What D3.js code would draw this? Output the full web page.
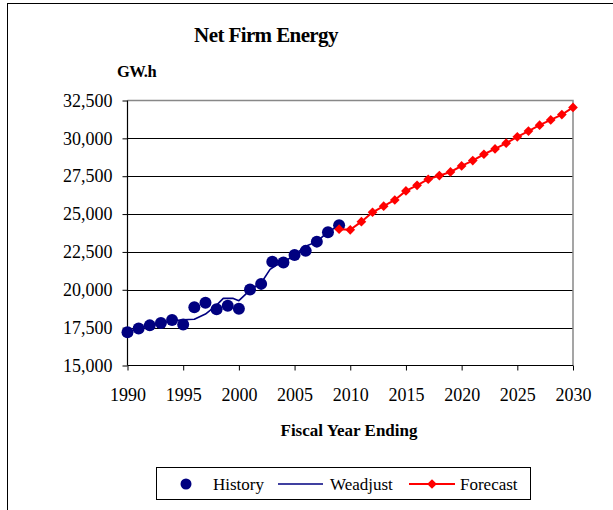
<!DOCTYPE html>
<html><head><meta charset="utf-8">
<script src="https://cdn.jsdelivr.net/npm/d3@7"></script>
<style>body{margin:0;background:#fff}svg{display:block}text{font-family:"Liberation Serif","Times New Roman",serif}</style>
</head><body>
<svg id="c" width="613" height="510" font-family="Liberation Serif"></svg>
<script>
const historyYears = [1990,1991,1992,1993,1994,1995,1996,1997,1998,1999,2000,2001,2002,2003,2004,2005,2006,2007,2008,2009];
const historyValues = [17190,17450,17650,17800,18000,17710,18850,19150,18720,18950,18750,20020,20390,21850,21800,22300,22570,23180,23800,24270];
const weadjustYears = [1990,1991,1992,1993,1994,1995,1996,1997,1998,1998.6,1999.5,2000,2001,2002,2002.8,2003.3,2004,2005,2006,2007,2008,2009];
const weadjustValues = [17200,17450,17650,17800,17950,18020,18050,18400,18990,19430,19430,19280,19980,20450,21350,21600,21800,22300,22880,23180,23820,24250];
const forecastYears = [2009,2010,2011,2012,2013,2014,2015,2016,2017,2018,2019,2020,2021,2022,2023,2024,2025,2026,2027,2028,2029,2030];
const forecastValues = [24000,23960,24500,25120,25520,25930,26530,26900,27300,27540,27780,28180,28530,28950,29300,29680,30100,30480,30870,31220,31570,32040];
const yTicks = [15000,17500,20000,22500,25000,27500,30000,32500];
const xTicks = [1990,1995,2000,2005,2010,2015,2020,2025,2030];
const titleText = "Net Firm Energy";
const yUnit = "GW.h";
const xTitle = "Fiscal Year Ending";
const legendLabels = ["History","Weadjust","Forecast"];

const svg = d3.select("#c");
const x = d3.scaleLinear().domain([1990,2030]).range([127.5,573]);
const y = d3.scaleLinear().domain([15000,32500]).range([365.5,100.5]);
const navy = "#000080", red = "#ff0000";
const serif = "Liberation Serif";

// outer chart border
svg.append("rect").attr("x",7.5).attr("y",3.5).attr("width",700).attr("height",600)
  .attr("fill","none").attr("stroke","#000").attr("stroke-width",1);

// gridlines
svg.append("g").selectAll("line").data(yTicks.filter(d=>d>15000 && d<32500)).join("line")
  .attr("x1",x(1990)).attr("x2",x(2030)).attr("y1",d=>Math.round(y(d))+0.5).attr("y2",d=>Math.round(y(d))+0.5)
  .attr("stroke","#000").attr("stroke-width",1);
// plot border top/right (gray)
svg.append("path").attr("d",`M${x(1990)},${y(32500)}H${x(2030)}V${y(15000)}`)
  .attr("fill","none").attr("stroke","#888").attr("stroke-width",1.5);

// axes
const yAxis = d3.axisLeft(y).tickValues(yTicks).tickSize(5).tickPadding(10).tickFormat(d3.format(","));
const gy = svg.append("g").attr("transform",`translate(${x(1990)},0)`).call(yAxis);
const xAxis = d3.axisBottom(x).tickValues(xTicks).tickSize(5).tickPadding(17.5).tickFormat(d3.format("d"));
const gx = svg.append("g").attr("transform",`translate(0,${y(15000)})`).call(xAxis);
[gy,gx].forEach(g=>{
  g.attr("font-family",serif);
  g.select(".domain").attr("stroke","#000").attr("stroke-width",1.2);
  g.selectAll(".tick line").attr("stroke","#000");
  g.selectAll("text").attr("font-size",18).attr("fill","#000").attr("font-family",serif);
});
gy.select(".domain").attr("d",`M0,${y(32500)}V${y(15000)}`);
gx.select(".domain").attr("d",`M${x(1990)},0H${x(2030)}`);

// Weadjust line
const line = d3.line().x(d=>x(d[0])).y(d=>y(d[1]));
svg.append("path").datum(weadjustYears.map((d,i)=>[d,weadjustValues[i]]))
  .attr("d",line).attr("fill","none").attr("stroke",navy).attr("stroke-width",1.6).attr("stroke-linejoin","round");

// History dots
svg.append("g").selectAll("circle").data(historyYears.map((d,i)=>[d,historyValues[i]])).join("circle")
  .attr("cx",d=>x(d[0])).attr("cy",d=>y(d[1])).attr("r",6).attr("fill",navy);

// Forecast
const fdata = forecastYears.map((d,i)=>[d,forecastValues[i]]);
svg.append("path").datum(fdata).attr("d",d3.line().x(d=>x(d[0])).y(d=>y(d[1])))
  .attr("fill","none").attr("stroke",red).attr("stroke-width",2);
const diamond = d3.symbol().type(d3.symbolDiamond2).size(60);
svg.append("g").selectAll("path").data(fdata).join("path")
  .attr("transform",d=>`translate(${x(d[0])},${y(d[1])})`).attr("d",diamond).attr("fill",red);

// Titles
svg.append("text").attr("x",266).attr("y",42).attr("text-anchor","middle").attr("font-family",serif)
  .attr("font-size",21).attr("font-weight","bold").attr("letter-spacing",-0.6).text(titleText);
svg.append("text").attr("x",117).attr("y",77).attr("font-size",16.5).attr("font-weight","bold").attr("font-family",serif)
  .attr("letter-spacing",-0.5).text(yUnit);
svg.append("text").attr("x",349).attr("y",436).attr("text-anchor","middle").attr("font-family",serif)
  .attr("font-size",17).attr("font-weight","bold").text(xTitle);

// Legend
const lg = svg.append("g").attr("font-family",serif);
lg.append("rect").attr("x",156.5).attr("y",467.5).attr("width",374).attr("height",32)
  .attr("fill","#fff").attr("stroke","#000").attr("stroke-width",1);
lg.append("circle").attr("cx",186).attr("cy",484).attr("r",5.5).attr("fill",navy);
lg.append("text").attr("x",213).attr("y",490).attr("font-size",17).text(legendLabels[0]);
lg.append("line").attr("x1",278).attr("x2",323).attr("y1",484).attr("y2",484).attr("stroke",navy).attr("stroke-width",1.6);
lg.append("text").attr("x",330).attr("y",490).attr("font-size",17).text(legendLabels[1]);
lg.append("line").attr("x1",409).attr("x2",455).attr("y1",484).attr("y2",484).attr("stroke",red).attr("stroke-width",2);
lg.append("path").attr("transform","translate(432,484)").attr("d",diamond).attr("fill",red);
lg.append("text").attr("x",460).attr("y",490).attr("font-size",17).text(legendLabels[2]);
</script>
</body></html>
